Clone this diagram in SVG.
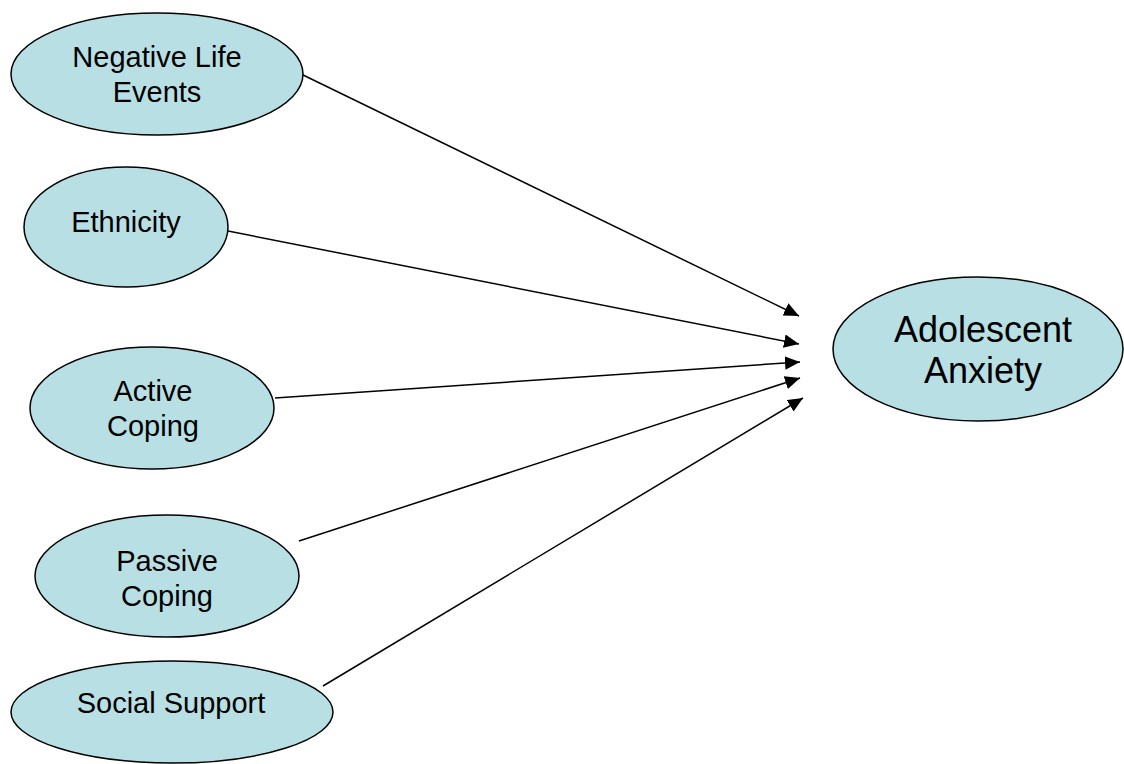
<svg xmlns="http://www.w3.org/2000/svg" width="1124" height="764" viewBox="0 0 1124 764">
<style>
.n{fill:#b8dfe3;stroke:#000;stroke-width:1.5}
.t{font-family:"Liberation Sans",Arial,sans-serif;font-size:29px;fill:#000;text-anchor:middle}
.tb{font-size:36px}
.c{stroke:#000;stroke-width:1.5;fill:none;marker-end:url(#ah)}
</style>
<defs>
<marker id="ah" markerWidth="10" markerHeight="9" refX="10" refY="4.5" orient="auto" markerUnits="strokeWidth">
<path d="M0,0 L10,4.5 L0,9 Z" fill="#000"/>
</marker>
</defs>
<rect width="1124" height="764" fill="#fff"/>
<g id="connectors">
<line class="c" x1="301" y1="74" x2="799" y2="316"/>
<line class="c" x1="228" y1="231" x2="799" y2="344"/>
<line class="c" x1="275" y1="398" x2="800" y2="362"/>
<line class="c" x1="299" y1="541" x2="800" y2="378"/>
<line class="c" x1="323" y1="686" x2="803" y2="398"/>
</g>
<g id="negative-life-events">
<ellipse class="n" cx="157" cy="74" rx="146" ry="61"/>
<text class="t" x="157" y="67">Negative Life</text>
<text class="t" x="157" y="102">Events</text>
</g>
<g id="ethnicity">
<ellipse class="n" cx="126" cy="227" rx="102" ry="60"/>
<text class="t" x="126" y="232">Ethnicity</text>
</g>
<g id="active-coping">
<ellipse class="n" cx="152" cy="408" rx="122" ry="61"/>
<text class="t" x="153" y="401">Active</text>
<text class="t" x="153" y="436">Coping</text>
</g>
<g id="passive-coping">
<ellipse class="n" cx="167" cy="576" rx="132" ry="61"/>
<text class="t" x="167" y="571">Passive</text>
<text class="t" x="167" y="606">Coping</text>
</g>
<g id="social-support">
<ellipse class="n" cx="172" cy="712" rx="161" ry="51"/>
<text class="t" x="171" y="713">Social Support</text>
</g>
<g id="adolescent-anxiety">
<ellipse class="n" cx="978" cy="349" rx="145" ry="72"/>
<text class="t tb" x="983" y="342">Adolescent</text>
<text class="t tb" x="983" y="383">Anxiety</text>
</g>
</svg>
